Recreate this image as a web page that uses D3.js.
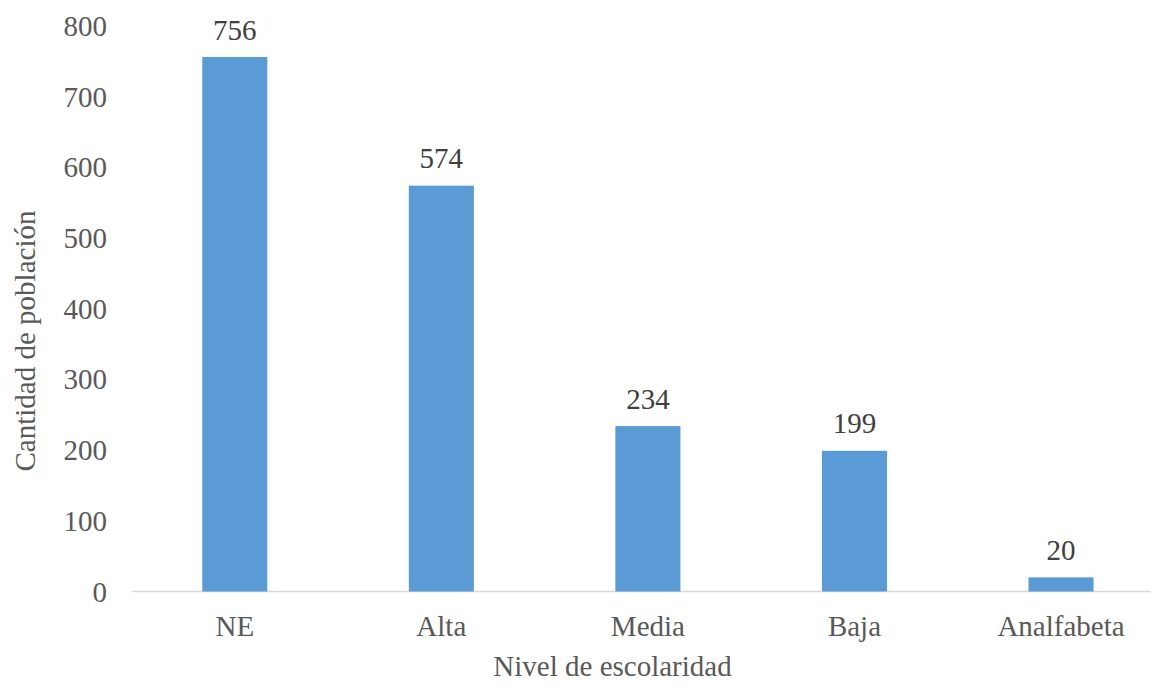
<!DOCTYPE html>
<html><head><meta charset="utf-8">
<script src="https://cdn.jsdelivr.net/npm/d3@7"></script>
<style>body{margin:0;background:#fff}svg{display:block}</style>
</head><body>
<svg id="c" width="1151" height="686"></svg>
<script>
const categories = ["NE","Alta","Media","Baja","Analfabeta"];
const values = [756,574,234,199,20];
const yTicks = [0,100,200,300,400,500,600,700,800];
const yTitle = "Cantidad de población";
const xTitle = "Nivel de escolaridad";

const FONT = "'Liberation Serif', 'Times New Roman', serif";
const FS = 29;
const svg = d3.select("#c").attr("font-family", FONT);
const x = d3.scaleBand().domain(categories).range([131.5,1164.3]).paddingInner(0.685).paddingOuter(0.3425);
const y = d3.scaleLinear().domain([0,800]).range([591.5,25.9]);

// axis line
svg.append("line").attr("x1",131.5).attr("x2",1151).attr("y1",y(0)).attr("y2",y(0))
  .attr("stroke","#d9d9d9").attr("stroke-width",1.5);

// y tick labels
svg.append("g").selectAll("text").data(yTicks).join("text")
  .attr("x",107).attr("y",d=>y(d)+10).attr("text-anchor","end").attr("font-family",FONT)
  .attr("font-size",FS).attr("fill","#595959").text(d=>d);

// bars
svg.append("g").selectAll("rect").data(values).join("rect")
  .attr("x",(d,i)=>x(categories[i])).attr("width",x.bandwidth())
  .attr("y",d=>y(d)).attr("height",d=>y(0)-y(d)).attr("fill","#5b9bd5");

// value labels
svg.append("g").selectAll("text").data(values).join("text")
  .attr("x",(d,i)=>x(categories[i])+x.bandwidth()/2).attr("y",d=>y(d)-17.5).attr("font-family",FONT)
  .attr("text-anchor","middle").attr("font-size",FS).attr("fill","#404040").text(d=>d);

// category labels
svg.append("g").selectAll("text").data(categories).join("text")
  .attr("x",d=>x(d)+x.bandwidth()/2).attr("y",636).attr("font-family",FONT)
  .attr("text-anchor","middle").attr("font-size",FS).attr("fill","#595959").text(d=>d);

// axis titles
svg.append("text").attr("transform","translate(34.5,341) rotate(-90)").attr("font-family",FONT)
  .attr("text-anchor","middle").attr("font-size",FS).attr("fill","#595959").text(yTitle);
svg.append("text").attr("x",612.5).attr("y",676).attr("font-family",FONT)
  .attr("text-anchor","middle").attr("font-size",FS).attr("fill","#595959").text(xTitle);
</script>
</body></html>
